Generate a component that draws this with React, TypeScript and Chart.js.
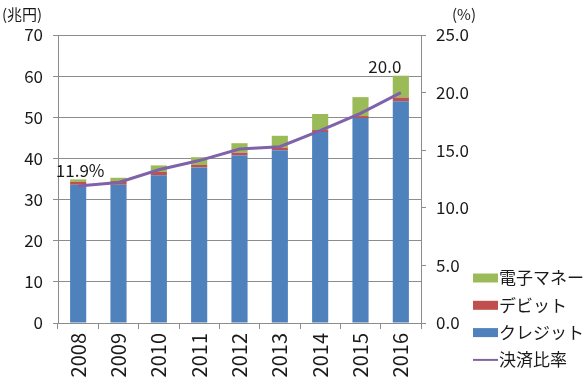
import React, { useEffect, useRef } from "react";
import { Chart, registerables } from "chart.js";

Chart.register(...registerables);

const years = ["2008", "2009", "2010", "2011", "2012", "2013", "2014", "2015", "2016"];
const credit = [33.6, 33.6, 35.9, 37.8, 40.8, 42.0, 46.4, 49.8, 53.9];
const debit = [0.7, 0.9, 0.8, 0.6, 0.6, 0.6, 0.5, 0.5, 0.9];
const emoney = [0.6, 0.8, 1.6, 1.9, 2.3, 2.9, 3.9, 4.6, 5.3];
const ratio = [11.9, 12.2, 13.3, 14.1, 15.1, 15.3, 16.7, 18.2, 20.0];
const ratioLabels: (string | null)[] = ["11.9%", null, null, null, null, null, null, null, "20.0"];

const FONT = "'Noto Sans CJK JP', 'Open Sans', sans-serif";
const TEXT = "#1a1a1a";
const GRID = "#8c8c8c";

const extrasPlugin = {
  id: "extras",
  afterDatasetsDraw(chart: any) {
    const ctx = chart.ctx;
    const meta = chart.getDatasetMeta(3);
    ctx.save();
    ctx.fillStyle = TEXT;
    ctx.font = `17px ${FONT}`;
    ctx.textAlign = "center";
    ctx.textBaseline = "alphabetic";
    meta.data.forEach((pt: any, i: number) => {
      const lbl = ratioLabels[i];
      if (!lbl) return;
      const last = i === ratioLabels.length - 1;
      const dx = last ? -16 : 2;
      const dy = last ? 20 : 9;
      ctx.fillText(lbl, pt.x + dx, pt.y - dy);
    });
    ctx.restore();
  },
  afterDraw(chart: any) {
    const ctx = chart.ctx;
    const area = chart.chartArea;
    ctx.save();
    ctx.fillStyle = TEXT;
    ctx.font = `15px ${FONT}`;
    ctx.textBaseline = "middle";
    ctx.textAlign = "left";
    ctx.fillText("(兆円)", 2, 14);
    ctx.fillText("(%)", area.right + 31, 14);

    // legend
    const items = [
      { label: "電子マネー", color: "#9BBB59", line: false },
      { label: "デビット", color: "#C0504D", line: false },
      { label: "クレジット", color: "#4F81BD", line: false },
      { label: "決済比率", color: "#8064A2", line: true },
    ];
    const lx = area.right + 52;
    let ly = 278;
    ctx.font = `17px ${FONT}`;
    items.forEach((it) => {
      if (it.line) {
        ctx.strokeStyle = it.color;
        ctx.lineWidth = 2;
        ctx.beginPath();
        ctx.moveTo(lx, ly);
        ctx.lineTo(lx + 25, ly);
        ctx.stroke();
      } else {
        ctx.fillStyle = it.color;
        ctx.fillRect(lx, ly - 4.5, 25, 9);
      }
      ctx.fillStyle = TEXT;
      ctx.fillText(it.label, lx + 26, ly);
      ly += 27.3;
    });
    ctx.restore();
  },
};

export default function App() {
  const ref = useRef<HTMLCanvasElement | null>(null);

  useEffect(() => {
    if (!ref.current) return;
    const chart = new Chart(ref.current, {
      type: "bar",
      data: {
        labels: years,
        datasets: [
          { type: "bar", label: "クレジット", data: credit, backgroundColor: "#4F81BD", stack: "s", yAxisID: "y", order: 1, barPercentage: 0.4, categoryPercentage: 1 },
          { type: "bar", label: "デビット", data: debit, backgroundColor: "#C0504D", stack: "s", yAxisID: "y", order: 1, barPercentage: 0.4, categoryPercentage: 1 },
          { type: "bar", label: "電子マネー", data: emoney, backgroundColor: "#9BBB59", stack: "s", yAxisID: "y", order: 1, barPercentage: 0.4, categoryPercentage: 1 },
          { type: "line", label: "決済比率", data: ratio, borderColor: "#7F62A8", borderWidth: 3, pointRadius: 0, yAxisID: "y1", order: 0, tension: 0 },
        ] as any,
      },
      options: {
        responsive: false,
        animation: false,
        devicePixelRatio: 1,
        layout: { padding: { top: 35, right: 109, left: 0, bottom: 0 } },
        plugins: { legend: { display: false }, tooltip: { enabled: false } },
        scales: {
          x: {
            stacked: true,
            grid: { display: true, drawOnChartArea: false, offset: true, tickLength: 6, color: GRID },
            border: { color: GRID },
            ticks: { color: TEXT, font: { family: FONT, size: 20 }, minRotation: 90, maxRotation: 90, padding: 4 },
            afterFit: (s: any) => { s.height = 68; },
          },
          y: {
            stacked: true,
            position: "left",
            min: 0,
            max: 70,
            grid: { color: GRID, tickLength: 5 },
            border: { color: GRID },
            ticks: { stepSize: 10, color: TEXT, font: { family: FONT, size: 17 }, padding: 10 },
            afterFit: (s: any) => { s.width = 58; },
          },
          y1: {
            position: "right",
            min: 0,
            max: 25,
            grid: { drawOnChartArea: false, color: GRID, tickLength: 5 },
            border: { color: GRID },
            ticks: { stepSize: 5, color: TEXT, font: { family: FONT, size: 17 }, padding: 10, callback: (v: any) => Number(v).toFixed(1) },
            afterFit: (s: any) => { s.width = 55; },
          },
        },
      } as any,
      plugins: [extrasPlugin],
    });
    return () => chart.destroy();
  }, []);

  return (
    <div style={{ position: "absolute", left: 0, top: 0, width: 585, height: 391, background: "#fff" }}>
      <canvas ref={ref} width={585} height={391} style={{ width: 585, height: 391 }} />
    </div>
  );
}
